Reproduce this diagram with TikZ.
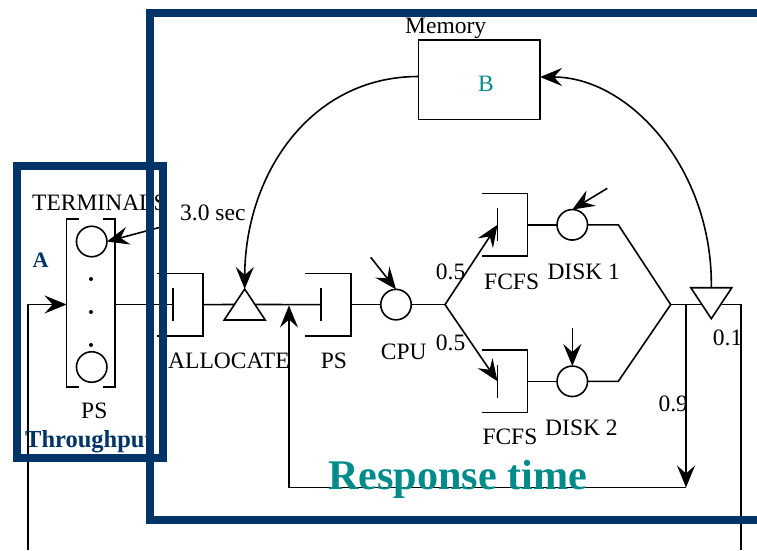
\documentclass[tikz,border=0pt]{standalone}
\usepackage{fontspec}
\setmainfont{Liberation Serif}
\usetikzlibrary{arrows.meta,shapes.geometric}
\definecolor{PerfNavy}{HTML}{003366}
\definecolor{PerfTeal}{HTML}{008B8B}
\tikzset{
  perfwire/.style={draw=black,line width=1.6pt},
  perfflow/.style={-{Stealth[length=22pt,width=18pt,inset=8pt]},draw=black,line width=1.6pt},
  perfframe/.style={draw=PerfNavy,line width=8pt,line join=miter},
  perfqueue/.style={minimum width=46pt,minimum height=62.5pt,inner sep=0pt,outer sep=0pt},
  perfserver/.style={circle,draw=black,line width=1.6pt,minimum size=30.5pt,inner sep=0pt,outer sep=0pt},
  perfjunction/.style={isosceles triangle,isosceles triangle stretches,draw=black,line width=1.6pt,
    minimum width=41pt,minimum height=31pt,inner sep=0pt,outer sep=0pt},
  perfdot/.style={circle,fill=black,minimum size=4pt,inner sep=0pt},
  perflabel/.style={anchor=base west,inner sep=0pt,font=\fontsize{23.5}{27}\selectfont},
  perfnavy/.style={anchor=base west,inner sep=0pt,text=PerfNavy,font=\fontsize{24.5}{28}\selectfont\bfseries}
}
\begin{document}
\begin{tikzpicture}[x=1pt,y=-1pt]
  \useasboundingbox (0,0) rectangle (757,550);
  % terminals
  \node[minimum width=48.5pt,minimum height=167.5pt,inner sep=0pt,outer sep=0pt] (termbox) at (90.8,303) {};
  \draw[perfwire] ([xshift=12pt]termbox.north west) -- (termbox.north west) -- (termbox.south west) -- ([xshift=12pt]termbox.south west);
  \draw[perfwire] ([xshift=-12pt]termbox.north east) -- (termbox.north east) -- (termbox.south east) -- ([xshift=-12pt]termbox.south east);
  \node[perfserver] (term1) at (91.7,241.5) {};
  \node[perfserver] (term2) at (91.7,367) {};
  \foreach \dotname/\doty in {dota/279,dotb/312,dotc/345}
    \node[perfdot] (\dotname) at (91,\doty) {};
  % queues
  \foreach \qname/\qx/\qy in {alloc/180/304.6,psq/328/304.6,fcfsa/504.5/224.8,fcfsb/504.5/381.3} {
    \node[perfqueue] (\qname) at (\qx,\qy) {};
    \draw[perfwire] (\qname.north west) -- (\qname.north east) -- (\qname.south east) -- (\qname.south west);
    \coordinate (\qname bar) at ([xshift=16pt]\qname.west);
    \draw[perfwire] ([yshift=16.5pt]\qname bar) -- ([yshift=-16.5pt]\qname bar);
  }
  % servers
  \node[perfserver] (cpu) at (396,304.6) {};
  \node[perfserver] (disk1) at (572.3,224.8) {};
  \node[perfserver] (disk2) at (572.3,381.3) {};
  \node[perfjunction,shape border rotate=90,anchor=apex] (tria) at (244.7,289) {};
  \node[perfjunction,shape border rotate=270,anchor=apex] (trib) at (711.3,318.7) {};
  \node[draw=black,line width=1.6pt,minimum width=121.7pt,minimum height=79.7pt,inner sep=0pt,outer sep=0pt] (memory) at (479.2,79.8) {};
  % junctions and free ends
  \coordinate (cpuout) at (445,304.6);
  \coordinate (diska) at (618.3,224.8);
  \coordinate (diskb) at (618.3,381.3);
  \coordinate (merge) at (670.7,304.6);
  \coordinate (split) at (686,304.6);
  \coordinate (exit) at (741,304.6);
  \coordinate (exitend) at (741,550);
  \coordinate (back) at (686,487.5);
  \coordinate (feedin) at (28,550);
  \coordinate (feedturn) at (28,304.5);
  \coordinate (backend) at (289,487.5);
  \coordinate (backtip) at (289,305.5);
  \coordinate (thinka) at (163,226.5);
  \coordinate (cpuin) at (370.7,257.3);
  \coordinate (diskina) at (607.3,188.3);
  \coordinate (diskinb) at (572.3,328.3);
  % wires
  \draw[perfflow] (feedin) -- (feedturn) -- (termbox.west |- feedturn);
  \draw[perfwire] (termbox.east |- allocbar) -- (allocbar);
  \draw[perfwire] (alloc.east) -- (tria.left side);
  \draw[perfwire] (tria.right side) -- (psqbar);
  \draw[perfwire] (psq.east) -- (cpu);
  \draw[perfwire] (cpu) -- (cpuout);
  \draw[perfflow] (cpuout) -- (fcfsabar);
  \draw[perfflow] (cpuout) -- (fcfsbbar);
  \draw[perfwire] (fcfsa.east) -- (disk1);
  \draw[perfwire] (fcfsb.east) -- (disk2);
  \draw[perfwire] (disk1) -- (diska) -- (merge);
  \draw[perfwire] (disk2) -- (diskb) -- (merge);
  \draw[perfwire] (merge) -- (trib.right side |- merge);
  \draw[perfwire] (trib.left side |- merge) -- (exit) -- (exitend);
  \draw[perfflow] (split) -- (back);
  \draw[perfflow] (back) -- (backend) -- (backtip);
  \draw[perfflow] (thinka) -- (term1.east);
  \draw[perfflow] (cpuin) -- (cpu.north);
  \draw[perfflow] (diskina) -- (disk1.north);
  \draw[perfflow] (diskinb) -- (disk2.north);
  \draw[perfflow] (memory.west |- 0,76.5) .. controls (310,76.5) and (245,175) .. (tria.apex);
  \draw[perfflow] (trib.lower side) .. controls (713,170) and (630,77) .. (memory.east |- 0,77);
  % labels
  \node[perflabel] (termlabel) at (32,210.7) {TERMINALS};
  \node[perflabel] (thinklabel) at (180,220.7) {3.0 sec};
  \node[perflabel] (termps) at (81,418) {PS};
  \node[perflabel] (alloclabel) at (168,368.3) {ALLOCATE};
  \node[perflabel] (pslabel) at (320.7,368.3) {PS};
  \node[perflabel] (cpulabel) at (380.7,359) {CPU};
  \node[perflabel] (proba) at (435.7,279) {0.5};
  \node[perflabel] (probb) at (435.7,350) {0.5};
  \node[perflabel] (fcfsalabel) at (484,289) {FCFS};
  \node[perflabel] (fcfsblabel) at (482.3,444.3) {FCFS};
  \node[perflabel] (diskalabel) at (547.3,279) {DISK 1};
  \node[perflabel] (diskblabel) at (545,435) {DISK 2};
  \node[perflabel] (probc) at (712.7,345) {0.1};
  \node[perflabel] (probd) at (658.3,411) {0.9};
  \node[perflabel] (memlabel) at (405,33) {Memory};
  \node[perflabel,text=PerfTeal] (blabel) at (478,91.7) {B};
  \node[perfnavy,font=\fontsize{22}{26}\selectfont\bfseries] (alabel) at (32.5,267) {A};
  \node[perfnavy] (tputlabel) at (25,447.7) {Throughput};
  \node[anchor=base west,inner sep=0pt,text=PerfTeal,font=\fontsize{42.2}{50}\selectfont\bfseries] (resplabel) at (328,489) {Response time};
  % frames
  \node[perfframe,minimum width=146pt,minimum height=292pt,inner sep=0pt] (tputframe) at (90,312) {};
  \coordinate (respa) at (757,13);
  \coordinate (respb) at (149.5,13);
  \coordinate (respc) at (149.5,520);
  \coordinate (respd) at (757,520);
  \draw[perfframe] (respa) -- (respb) -- (respc) -- (respd);
\end{tikzpicture}
\end{document}
